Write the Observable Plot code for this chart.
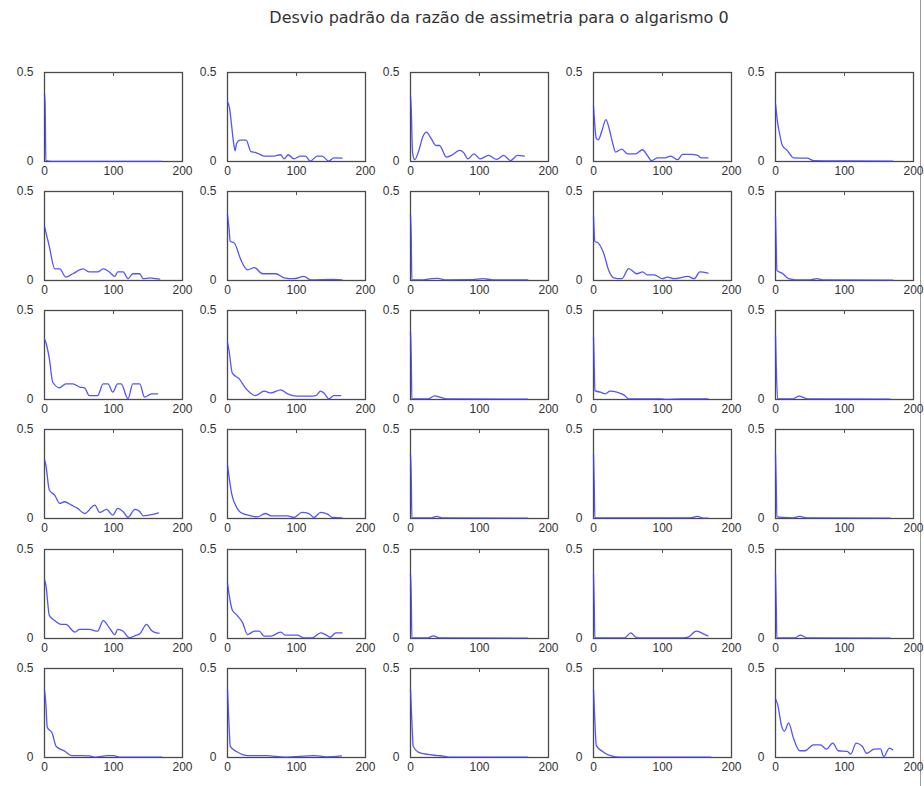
<!DOCTYPE html>
<html><head><meta charset="utf-8">
<script src="https://cdn.jsdelivr.net/npm/d3@7"></script>
<script src="https://cdn.jsdelivr.net/npm/@observablehq/plot@0.6"></script>
<style>
body{margin:0;background:#fff;}
#wrap{position:relative;width:924px;height:786px;overflow:hidden;background:#fff;font-family:"Liberation Sans",Arial,sans-serif;}
#title{position:absolute;left:499px;top:8px;transform:translateX(-50%);white-space:nowrap;font-family:"DejaVu Sans",sans-serif;font-size:16px;color:#333;}
.panel{position:absolute;}
#edge{position:absolute;left:920px;top:0;width:1px;height:786px;background:#9a9a9a;}
</style>
</head><body>
<div id="wrap"><div id="title"></div><div id="edge"></div></div>
<script>
const titleText = "Desvio padrão da razão de assimetria para o algarismo 0";
const xTicks = [0, 100, 200];
const yTicks = [0, 0.5];

// each series: [x, value] points, panels in row order
const s01 = [[0,0.38],[1,0.3],[2,0.005],[10,0.001],[170,0.001]];
const s02 = [[0,0.335],[3,0.3],[6,0.2],[9,0.1],[11,0.06],[13,0.1],[18,0.12],[27,0.12],[34,0.055],[41,0.05],[47,0.04],[53,0.03],[67,0.03],[77,0.038],[82,0.015],[88,0.038],[96,0.015],[106,0.03],[113,0.03],[120,0.002],[130,0.03],[137,0.03],[147,0.002],[154,0.02],[166,0.019]];
const s03 = [[0,0.37],[1,0.3],[3,0.05],[6,0.01],[12,0.06],[18,0.14],[23,0.165],[30,0.128],[37,0.09],[42,0.09],[52,0.025],[59,0.034],[71,0.062],[77,0.05],[83,0.015],[92,0.043],[101,0.015],[113,0.034],[125,0.012],[135,0.034],[145,0.005],[155,0.034],[165,0.03]];
const s04 = [[0,0.31],[2,0.2],[4,0.13],[7,0.122],[12,0.17],[18,0.235],[23,0.18],[28,0.1],[32,0.053],[41,0.07],[49,0.043],[61,0.043],[71,0.066],[78,0.034],[84,0.005],[93,0.02],[102,0.02],[112,0.03],[122,0.01],[129,0.04],[141,0.04],[151,0.034],[156,0.02],[166,0.02]];
const s05 = [[0,0.325],[3,0.22],[5,0.175],[10,0.09],[17,0.062],[22,0.035],[26,0.02],[46,0.019],[55,0.005],[100,0.003],[170,0.002]];
const s06 = [[0,0.304],[7,0.19],[15,0.065],[22,0.065],[31,0.019],[41,0.038],[56,0.065],[65,0.048],[77,0.048],[85,0.065],[94,0.048],[102,0.023],[106,0.048],[114,0.048],[121,0.01],[128,0.038],[138,0.038],[143,0.01],[153,0.015],[162,0.01],[167,0.008]];
const s07 = [[0,0.37],[2,0.3],[4,0.22],[10,0.21],[19,0.12],[29,0.06],[39,0.072],[51,0.038],[70,0.038],[82,0.015],[96,0.01],[111,0.023],[120,0.004],[154,0.006],[166,0.004]];
const s08 = [[0,0.37],[1,0.25],[2,0.005],[15,0.003],[30,0.01],[40,0.012],[50,0.004],[90,0.005],[105,0.01],[120,0.004],[170,0.003]];
const s09 = [[0,0.36],[2,0.22],[7,0.21],[15,0.15],[22,0.057],[29,0.015],[41,0.01],[51,0.067],[63,0.038],[71,0.048],[78,0.032],[88,0.032],[100,0.01],[107,0.019],[117,0.01],[137,0.023],[146,0.01],[154,0.048],[166,0.042]];
const s10 = [[0,0.36],[1,0.2],[2,0.057],[10,0.04],[19,0.01],[29,0.004],[50,0.004],[60,0.01],[70,0.003],[170,0.002]];
const s11 = [[0,0.34],[2,0.32],[7,0.23],[12,0.097],[22,0.066],[31,0.088],[41,0.088],[51,0.07],[58,0.066],[65,0.022],[77,0.022],[85,0.088],[92,0.088],[99,0.041],[106,0.088],[111,0.088],[121,0.004],[128,0.088],[138,0.088],[145,0.013],[155,0.032],[164,0.032]];
const s12 = [[0,0.32],[2,0.28],[7,0.148],[17,0.116],[27,0.06],[41,0.022],[53,0.047],[63,0.037],[77,0.054],[87,0.032],[101,0.019],[118,0.019],[128,0.022],[135,0.047],[140,0.035],[147,0.004],[154,0.022],[164,0.022]];
const s13 = [[0,0.38],[1,0.25],[2,0.005],[25,0.003],[35,0.02],[45,0.01],[55,0.003],[170,0.002]];
const s14 = [[0,0.35],[1,0.2],[2,0.05],[10,0.041],[17,0.032],[24,0.047],[34,0.041],[44,0.026],[51,0.004],[98,0.004],[105,0.001],[127,0.004],[166,0.004]];
const s15 = [[0,0.36],[1,0.2],[3,0.005],[25,0.004],[34,0.019],[46,0.004],[166,0.002]];
const s16 = [[0,0.33],[2,0.3],[7,0.16],[15,0.13],[22,0.085],[29,0.094],[39,0.075],[48,0.057],[58,0.028],[73,0.075],[80,0.034],[90,0.051],[99,0.019],[106,0.057],[114,0.038],[121,0.006],[131,0.051],[138,0.04],[143,0.015],[157,0.023],[165,0.032]];
const s17 = [[0,0.3],[6,0.14],[14,0.057],[19,0.034],[34,0.015],[43,0.009],[55,0.028],[63,0.015],[87,0.015],[96,0.006],[108,0.034],[118,0.028],[125,0.006],[135,0.034],[145,0.025],[152,0.006],[166,0.004]];
const s18 = [[0,0.36],[1,0.25],[2,0.004],[30,0.004],[38,0.012],[46,0.004],[170,0.002]];
const s19 = [[0,0.36],[1,0.2],[2,0.004],[140,0.004],[151,0.012],[159,0.002],[166,0.002]];
const s20 = [[0,0.36],[1,0.2],[2,0.01],[10,0.006],[25,0.004],[35,0.012],[45,0.004],[166,0.002]];
const s21 = [[0,0.33],[2,0.3],[7,0.13],[15,0.1],[24,0.079],[31,0.079],[44,0.036],[51,0.051],[65,0.051],[77,0.041],[85,0.1],[94,0.06],[102,0.022],[106,0.051],[114,0.041],[123,0.004],[133,0.019],[138,0.026],[148,0.079],[155,0.045],[162,0.032],[166,0.03]];
const s22 = [[0,0.31],[7,0.16],[14,0.13],[22,0.088],[29,0.022],[39,0.041],[46,0.041],[53,0.013],[63,0.013],[77,0.036],[84,0.019],[101,0.019],[111,0.004],[123,0.004],[135,0.032],[142,0.022],[149,0.007],[157,0.032],[166,0.032]];
const s23 = [[0,0.36],[1,0.25],[2,0.004],[25,0.004],[33,0.015],[42,0.004],[170,0.002]];
const s24 = [[0,0.36],[1,0.2],[2,0.004],[45,0.004],[54,0.032],[61,0.008],[70,0.003],[130,0.004],[137,0.008],[149,0.041],[163,0.019],[166,0.015]];
const s25 = [[0,0.36],[1,0.2],[2,0.004],[28,0.004],[36,0.019],[46,0.004],[166,0.002]];
const s26 = [[0,0.38],[2,0.3],[4,0.17],[11,0.137],[17,0.062],[30,0.034],[39,0.011],[65,0.009],[74,0.002],[91,0.011],[100,0.011],[109,0.002],[170,0.002]];
const s27 = [[0,0.38],[2,0.2],[4,0.062],[13,0.034],[30,0.011],[56,0.011],[83,0.002],[126,0.011],[143,0.004],[165,0.009]];
const s28 = [[0,0.38],[2,0.2],[4,0.062],[15,0.024],[39,0.011],[48,0.008],[57,0.002],[170,0.002]];
const s29 = [[0,0.38],[2,0.2],[4,0.068],[13,0.034],[26,0.009],[39,0.002],[170,0.002]];
const s30 = [[0,0.33],[3,0.3],[9,0.175],[13,0.147],[19,0.194],[26,0.109],[35,0.038],[43,0.038],[55,0.071],[65,0.071],[74,0.047],[83,0.081],[91,0.038],[104,0.034],[109,0.019],[117,0.081],[126,0.062],[132,0.024],[143,0.047],[152,0.049],[157,0.005],[165,0.053],[170,0.043]];

const series = [s01,s02,s03,s04,s05,s06,s07,s08,s09,s10,s11,s12,s13,s14,s15,s16,s17,s18,s19,s20,s21,s22,s23,s24,s25,s26,s27,s28,s29,s30];

// layout (frame positions in page pixels)
const colLefts = [44, 227, 410, 593, 775];
const rowTops = [72, 191, 310, 429, 549, 668];
const frameW = 138, frameH = 89;
const mL = 34, mR = 10, mT = 6, mB = 22;

document.getElementById("title").textContent = titleText;
const wrap = document.getElementById("wrap");

series.forEach((data, i) => {
  const r = Math.floor(i / 5), c = i % 5;
  const chart = Plot.plot({
    width: mL + frameW + mR,
    height: mT + frameH + mB,
    marginLeft: mL, marginRight: mR, marginTop: mT, marginBottom: mB,
    x: {domain: [0, 200]},
    y: {domain: [0, 0.5]},
    style: {fontFamily: '"Liberation Sans", Arial, sans-serif', fontSize: "12px", color: "#333", background: "transparent", overflow: "visible"},
    marks: [
      Plot.frame({stroke: "#4a4a4a", strokeWidth: 1.3}),
      Plot.axisX({anchor: "top", ticks: [100], tickSize: 3, dy: 3, tickFormat: () => "", label: null, stroke: "#555"}),
      Plot.line(data, {x: d => d[0], y: d => d[1], curve: "monotone-x", stroke: "#4040ff", strokeWidth: 1.3, strokeOpacity: 0.9}),
      Plot.axisX({ticks: xTicks, tickSize: 0, tickPadding: 5, tickFormat: d => String(d), label: null}),
      Plot.axisY({ticks: yTicks, tickSize: 0, tickPadding: 11, tickFormat: d => String(d), label: null})
    ]
  });
  chart.classList.add("panel");
  chart.style.left = (colLefts[c] - mL) + "px";
  chart.style.top = (rowTops[r] - mT) + "px";
  wrap.appendChild(chart);
});
</script>
</body></html>
